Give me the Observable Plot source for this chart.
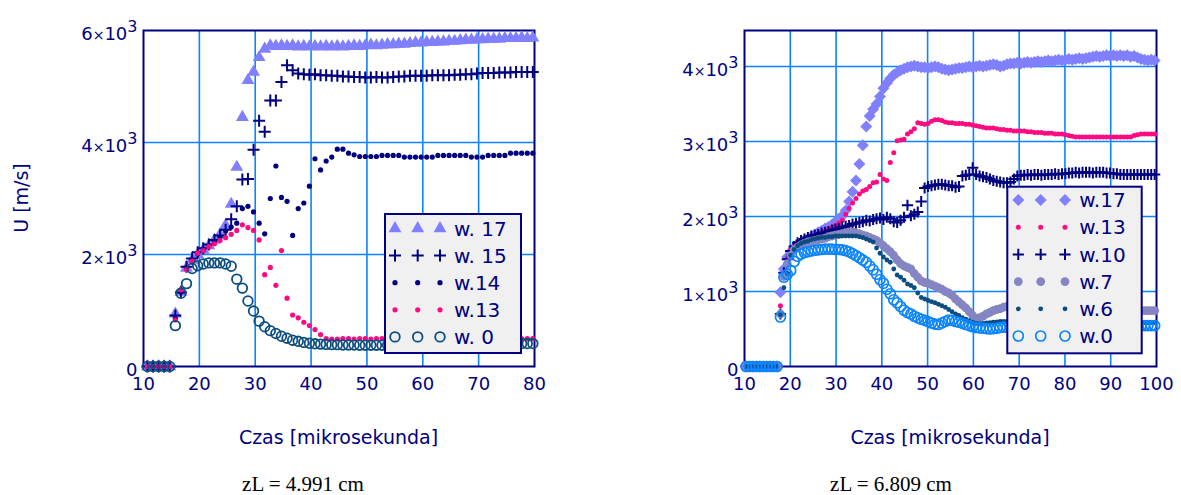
<!DOCTYPE html>
<html>
<head>
<meta charset="utf-8">
<script src="https://cdn.jsdelivr.net/npm/d3@7"></script>
<script src="https://cdn.jsdelivr.net/npm/@observablehq/plot@0.6"></script>
<style>
  html, body { margin: 0; padding: 0; background: #fff; }
  #page { position: relative; width: 1181px; height: 495px; overflow: hidden; font-family: "DejaVu Sans", Verdana, sans-serif; }
  .panel { position: absolute; top: 0; }
  .caption { position: absolute; top: 474px; font-family: "Liberation Serif", "Times New Roman", serif; font-size: 21px; line-height: 21px; color: #000; white-space: nowrap; transform: translateX(-50%); }
</style>
</head>
<body>
<div id="page"></div>
<script>
// ---------- Left panel: zL = 4.991 cm (one sample per microsecond from 10.7 µs) ----------
const leftStart = 10.7, leftStep = 1;
const leftXTicks = [10, 20, 30, 40, 50, 60, 70, 80];
const leftYTicks = [0, 2000, 4000, 6000];
const leftKeys = ["w. 17", "w. 15", "w.14", "w.13", "w. 0"];

const left_w17 = [
  0, 0, 0, 0, 0,
  940, 1330, 1760, 1900, 2000, 2080, 2160, 2260, 2360, 2520,
  2900, 3560, 4450, 5110, 5260, 5520, 5670, 5730, 5720,
  5730, 5720, 5730, 5710, 5720, 5710, 5720, 5710, 5720, 5710, 5720, 5710,
  5720, 5730, 5720, 5730, 5740, 5730, 5740, 5750, 5750, 5760, 5760, 5770, 5780, 5780,
  5790, 5790, 5800, 5800, 5810, 5810, 5820, 5830, 5830, 5840,
  5840, 5850, 5850, 5850, 5860, 5860, 5860, 5870, 5860, 5870
];
const left_w15 = [
  0, 0, 0, 0, 0,
  910, 1320, 1780, 1930, 2040, 2110, 2180, 2260, 2340, 2440,
  2630, 2860, 3340, 3350, 3870, 4390, 4190, 4750, 4750, 5080,
  5380, 5290, 5230,
  5220, 5210, 5220, 5200, 5200, 5190, 5190, 5180, 5180, 5170, 5170, 5160,
  5160, 5170, 5160, 5160, 5170, 5180, 5180, 5190, 5190, 5190,
  5190, 5200, 5200, 5200, 5200, 5210, 5210, 5220, 5220, 5230,
  5240, 5240, 5240, 5250, 5250, 5250, 5260, 5260, 5260, 5260
];
const left_w14 = [
  0, 0, 0, 0, 0,
  860, 1330, 1760, 1900, 2010, 2080, 2150, 2230, 2310, 2420,
  2490, 2560, 2820, 2860, 2760, 2560, 2370, 3000, 3580, 3020,
  2950, 2340, 2820, 2920, 3220, 3710, 3510, 3670, 3740, 3880,
  3880, 3810, 3780, 3750,
  3750, 3750, 3750, 3770, 3770, 3770, 3770, 3740, 3740, 3740,
  3740, 3740, 3740, 3770, 3770, 3770, 3770, 3770, 3770, 3740,
  3740, 3740, 3770, 3770, 3770, 3770, 3810, 3810, 3810, 3810, 3810
];
const left_w13 = [
  0, 0, 0, 0, 0,
  830, 1370, 1730, 1880, 2020, 2070, 2140, 2190, 2250, 2300,
  2360, 2430, 2530, 2480, 2430, 2260, 1640, 1770, 1450, 2070,
  1220, 920, 870, 790, 730, 660, 570, 500,
  490, 490, 500, 500, 490, 500, 500, 490, 500, 500,
  490, 500, 500, 490, 500, 500, 500, 490, 500, 500,
  500, 490, 500, 500, 490, 500, 500, 500, 490, 500,
  500, 500, 490, 500, 500, 500, 500
];
const left_w0 = [
  0, 0, 0, 0, 0,
  730, 1310, 1480, 1750, 1800, 1830, 1850, 1850, 1850, 1830,
  1790, 1560, 1400, 1170, 990, 810, 710, 640, 590, 540,
  505, 470, 450, 430, 415, 405, 400, 395, 390,
  390, 385, 385, 385, 380, 380, 380, 380, 380, 380,
  380, 380, 385, 385, 385, 390, 390, 390, 390, 395,
  395, 400, 400, 400, 400, 405, 405, 405, 410, 410,
  410, 410, 410, 410, 410, 410
];

// ---------- Right panel: zL = 6.809 cm (sampled every 0.75 µs from 10.35 µs) ----------
const rightStart = 10.35, rightStep = 0.75;
const rightXTicks = [10, 20, 30, 40, 50, 60, 70, 80, 90, 100];
const rightYTicks = [0, 1000, 2000, 3000, 4000];
const rightKeys = ["w.17", "w.13", "w.10", "w.7", "w.6", "w.0"];

const right_w17 = [
  0, 0, 0, 0, 0, 0, 0, 0, 0, 0,
  990, 1300, 1460, 1530, 1580, 1610, 1650, 1680, 1700, 1730,
  1760, 1790, 1810, 1840, 1860, 1890, 1930, 1970, 2010, 2080,
  2200, 2330, 2480, 2700, 2950, 3200, 3340, 3430, 3500, 3600,
  3710, 3780, 3840, 3890, 3920, 3950, 3970, 3990, 4000, 4010,
  4000, 3990, 3990, 3980, 3990, 4000, 3990, 3970, 3960, 3950,
  3960, 3970, 3980, 3980, 3990, 4000, 3990, 4000, 4010, 4000,
  4010, 4020, 4030, 4020, 4000, 4010, 4030, 4040, 4040, 4050,
  4040, 4050, 4060, 4050, 4060, 4070, 4060, 4070, 4080, 4070,
  4080, 4090, 4080, 4090, 4100, 4090, 4100, 4110, 4100, 4110,
  4120, 4130, 4140, 4130, 4140, 4150, 4140, 4150, 4140, 4150,
  4140, 4150, 4130, 4140, 4120, 4100, 4090, 4080, 4090, 4080
];
const right_w13 = [
  0, 0, 0, 0, 0, 0, 0, 0, 0, 0,
  810, 1200, 1450, 1560, 1610, 1650, 1680, 1700, 1720, 1740,
  1750, 1770, 1790, 1810, 1830, 1850, 1880, 1910, 1950, 2030,
  2110, 2180, 2240, 2300, 2340, 2360, 2400, 2450, 2460, 2560,
  2500, 2480, 2720, 2850, 3010, 3020, 3030, 3100, 3130, 3170,
  3250, 3240, 3230, 3240, 3270, 3290, 3290, 3280, 3260, 3250,
  3250, 3240, 3240, 3240, 3230, 3230, 3220, 3210, 3200, 3190,
  3180, 3180, 3180, 3170, 3160, 3160, 3150, 3150, 3140, 3140,
  3140, 3140, 3130, 3130, 3120, 3120, 3120, 3110, 3110, 3110,
  3100, 3100, 3100, 3090, 3080, 3070, 3060, 3060, 3060, 3060,
  3060, 3060, 3060, 3060, 3060, 3060, 3060, 3060, 3060, 3060,
  3060, 3060, 3060, 3080, 3090, 3100, 3100, 3100, 3100, 3100
];
const right_w10 = [
  0, 0, 0, 0, 0, 0, 0, 0, 0, 0,
  700, 1250, 1430, 1540, 1600, 1650, 1680, 1700, 1720, 1740,
  1750, 1760, 1780, 1790, 1800, 1820, 1830, 1840, 1860, 1870,
  1880, 1900, 1910, 1920, 1930, 1950, 1940, 1960, 1970, 1980,
  1960, 1990, 1970, 1930, 1920, 1950, 1990, 2150, 2010, 2030,
  2060, 2200, 2380, 2400, 2410, 2420, 2430, 2430, 2420, 2410,
  2410, 2390, 2400, 2540, 2550, 2560, 2650, 2560, 2540, 2530,
  2520, 2500, 2480, 2470, 2460, 2450, 2450, 2460, 2500, 2540,
  2550, 2550, 2560, 2550, 2560, 2560, 2550, 2560, 2560, 2560,
  2570, 2560, 2570, 2570, 2580, 2580, 2590, 2580, 2590, 2590,
  2590, 2580, 2590, 2590, 2590, 2580, 2580, 2570, 2570, 2560,
  2560, 2560, 2560, 2560, 2560, 2560, 2560, 2560, 2560, 2560
];
const right_w7 = [
  0, 0, 0, 0, 0, 0, 0, 0, 0, 0,
  700, 1200, 1370, 1480, 1560, 1590, 1620, 1640, 1660, 1670,
  1680, 1690, 1700, 1710, 1730, 1740, 1750, 1760, 1770, 1780,
  1790, 1790, 1780, 1770, 1750, 1740, 1720, 1700, 1680, 1650,
  1610, 1570, 1530, 1480, 1420, 1370, 1340, 1320, 1300, 1240,
  1190, 1140, 1120, 1110, 1090, 1070, 1050, 1030, 1000, 980,
  950, 900, 860, 820, 780, 730, 680, 640, 650, 670,
  700, 720, 745, 760, 770, 790, 800, 800, 800, 800,
  800, 790, 790, 790, 790, 780, 780, 780, 780, 780,
  770, 770, 770, 770, 770, 770, 760, 760, 760, 760,
  760, 760, 760, 760, 760, 750, 750, 750, 750, 750,
  750, 750, 750, 750, 745, 745, 745, 745, 745, 745
];
const right_w6 = [
  0, 0, 0, 0, 0, 0, 0, 0, 0, 0,
  690, 1050, 1240, 1480, 1560, 1610, 1640, 1660, 1670, 1690,
  1700, 1710, 1720, 1720, 1730, 1730, 1740, 1740, 1740, 1740,
  1740, 1740, 1740, 1730, 1720, 1700, 1680, 1660, 1580, 1510,
  1460, 1420, 1390, 1300, 1220, 1190, 1150, 1100, 1080, 1050,
  980, 920, 900, 880, 865, 850, 830, 810, 790, 760,
  730, 700, 680, 650, 630, 610, 590, 575, 570, 575,
  580, 585, 590, 595, 600, 600, 600, 600, 600, 600,
  600, 600, 600, 600, 600, 600, 600, 600, 600, 600,
  600, 600, 595, 595, 595, 595, 595, 595, 595, 595,
  595, 595, 590, 590, 590, 590, 590, 590, 590, 590,
  590, 590, 590, 590, 590, 585, 585, 585, 585, 585
];
const right_w0 = [
  0, 0, 0, 0, 0, 0, 0, 0, 0, 0,
  660, 1190, 1230, 1280, 1400, 1470, 1500, 1520, 1530, 1540,
  1550, 1555, 1560, 1565, 1565, 1565, 1560, 1560, 1555, 1545,
  1530, 1505, 1480, 1450, 1420, 1390, 1340, 1290, 1230, 1160,
  1110, 1030, 970, 890, 850, 800, 750, 720, 700, 670,
  650, 630, 615, 600, 580, 565, 560, 580, 600, 620,
  615, 600, 590, 575, 560, 545, 530, 520, 515, 510,
  505, 500, 505, 510, 520, 525, 525, 525, 530, 530,
  530, 530, 530, 530, 530, 530, 530, 530, 530, 530,
  535, 535, 535, 535, 535, 535, 535, 535, 535, 535,
  540, 540, 540, 540, 540, 540, 540, 540, 540, 540,
  540, 545, 545, 545, 545, 545, 545, 545, 545, 545
];

// ---------- styling ----------
const NAVY = "#000080";
const GRID = "#0a84ff";
const SYM = {
  circle: d3.symbolCircle, triangle: d3.symbolTriangle,
  plus: d3.symbolPlus, diamond2: d3.symbolDiamond2
};

// r is Plot's symbol radius (area = πr²); the stroked plus is sized accordingly
const leftStyles = [
  {symbol: "triangle", r: 4.8, fill: "#8080ff"},
  {symbol: "plus", r: 3.95, stroke: NAVY, sw: 2},
  {symbol: "circle", r: 2.6, fill: NAVY},
  {symbol: "circle", r: 2.6, fill: "#ff0a80"},
  {symbol: "circle", r: 4.8, stroke: "#0b4d80", sw: 1.8}
];
const rightStyles = [
  {symbol: "diamond2", r: 5.4, fill: "#8080ff"},
  {symbol: "circle", r: 2.5, fill: "#ff0a80"},
  {symbol: "plus", r: 3.7, stroke: NAVY, sw: 2},
  {symbol: "circle", r: 4.4, fill: "#8585c4"},
  {symbol: "circle", r: 2.4, fill: "#0b4d80"},
  {symbol: "circle", r: 5, stroke: "#0a84ff", sw: 1.7}
];

function pow10Label(d) {
  return d === 0 ? "0" : `${d / 1000}×10^3`;
}

function buildPanel(cfg) {
  const marks = [
    Plot.gridX({ticks: cfg.xTicks.slice(1, -1), stroke: GRID, strokeOpacity: 1, strokeWidth: 1.6}),
    Plot.gridY({ticks: cfg.yTicks.filter(v => v > cfg.yDomain[0] && v < cfg.yDomain[1]), stroke: GRID, strokeOpacity: 1, strokeWidth: 1.6}),
    Plot.frame({stroke: NAVY, strokeWidth: 2}),
    Plot.axisX({ticks: cfg.xTicks, tickSize: 0, tickPadding: 11, fontSize: 18, label: null, tickFormat: d => String(d)}),
    Plot.axisY({ticks: cfg.yTicks, tickSize: 0, tickPadding: 6, fontSize: 18, label: null, dy: 4, tickFormat: pow10Label})
  ];
  cfg.values.forEach((vals, j) => {
    const s = cfg.styles[j];
    const rows = vals.map((u, i) => ({t: cfg.start + i * cfg.step, u}));
    marks.push(Plot.dot(rows, {
      x: "t", y: "u", symbol: s.symbol, r: s.r,
      fill: s.fill ?? "none", stroke: s.stroke ?? "none", strokeWidth: s.sw ?? 0
    }));
  });
  const svg = Plot.plot({
    width: cfg.width, height: cfg.height,
    marginLeft: cfg.marginLeft, marginRight: cfg.marginRight,
    marginTop: cfg.marginTop, marginBottom: cfg.marginBottom,
    x: {domain: cfg.xDomain},
    y: {domain: cfg.yDomain},
    style: {fontFamily: "DejaVu Sans, Verdana, sans-serif", color: NAVY, background: "transparent", overflow: "visible"},
    marks
  });

  const root = d3.select(svg);
  // exponent notation on the value axis: n×10³
  root.selectAll('g[aria-label="y-axis tick label"] text').each(function () {
    const m = this.textContent.match(/^(\d+)×10\^(\d+)$/);
    if (!m) return;
    const el = d3.select(this);
    el.text(null);
    el.append("tspan").text(m[1]);
    el.append("tspan").attr("font-size", 14).text("×");
    el.append("tspan").text("10");
    el.append("tspan").attr("font-size", 16).attr("dy", "-0.5em").text(m[2]);
  });

  // x-axis title under the frame
  const cx = (cfg.marginLeft + cfg.width - cfg.marginRight) / 2;
  root.append("text")
    .attr("x", cx).attr("y", cfg.xTitleY)
    .attr("text-anchor", "middle").attr("font-size", 19).attr("fill", NAVY)
    .text("Czas [mikrosekunda]");

  if (cfg.yTitle) {
    root.append("text")
      .attr("transform", `translate(${cfg.yTitleX},${cfg.yTitleY}) rotate(-90)`)
      .attr("text-anchor", "middle").attr("dy", "0.36em")
      .attr("font-size", 19).attr("fill", NAVY)
      .text(cfg.yTitle);
  }

  // legend box with three sample markers per series
  const L = cfg.legend;
  const g = root.append("g");
  g.append("rect")
    .attr("x", L.x).attr("y", L.y).attr("width", L.w).attr("height", L.h)
    .attr("fill", "#f0f0f0").attr("stroke", NAVY).attr("stroke-width", 2);
  cfg.keys.forEach((key, i) => {
    const s = cfg.styles[i];
    const cy = L.rowY0 + i * L.rowStep;
    for (const sx of L.symX) {
      g.append("path")
        .attr("transform", `translate(${sx},${cy})`)
        .attr("d", d3.symbol(SYM[s.symbol], Math.PI * s.r * s.r)())
        .attr("fill", s.fill ?? "none")
        .attr("stroke", s.stroke ?? "none")
        .attr("stroke-width", s.sw ?? 0);
    }
    g.append("text")
      .attr("x", L.textX).attr("y", cy).attr("dy", "0.36em")
      .attr("text-anchor", "start")
      .attr("font-size", 20).attr("fill", NAVY)
      .text(key);
  });

  svg.classList.add("panel");
  svg.style.left = cfg.left + "px";
  return svg;
}

const page = document.getElementById("page");

page.appendChild(buildPanel({
  left: 0, width: 560, height: 460,
  marginLeft: 143, marginRight: 26, marginTop: 30, marginBottom: 94,
  xDomain: [10, 80], yDomain: [0, 6000],
  xTicks: leftXTicks, yTicks: leftYTicks,
  start: leftStart, step: leftStep,
  values: [left_w17, left_w15, left_w14, left_w13, left_w0],
  styles: leftStyles, keys: leftKeys,
  xTitleY: 444,
  yTitle: "U [m/s]", yTitleX: 21, yTitleY: 198,
  legend: {x: 385, y: 214, w: 136, h: 139, rowY0: 228.5, rowStep: 27.1, symX: [395, 417.7, 440], textX: 454}
}));

page.appendChild(buildPanel({
  left: 600, width: 581, height: 460,
  marginLeft: 144, marginRight: 25, marginTop: 30, marginBottom: 94,
  xDomain: [10, 100], yDomain: [0, 4480],
  xTicks: rightXTicks, yTicks: rightYTicks,
  start: rightStart, step: rightStep,
  values: [right_w17, right_w13, right_w10, right_w7, right_w6, right_w0],
  styles: rightStyles, keys: rightKeys,
  xTitleY: 444,
  legend: {x: 407.3, y: 186.7, w: 134.4, h: 166.6, rowY0: 200, rowStep: 27.2, symX: [418.3, 440.7, 465], textX: 479.3}
}));

// panel captions
for (const [text, x] of [["zL = 4.991 cm", 303], ["zL = 6.809 cm", 891]]) {
  const d = document.createElement("div");
  d.className = "caption";
  d.style.left = x + "px";
  d.textContent = text;
  page.appendChild(d);
}
</script>
</body>
</html>
